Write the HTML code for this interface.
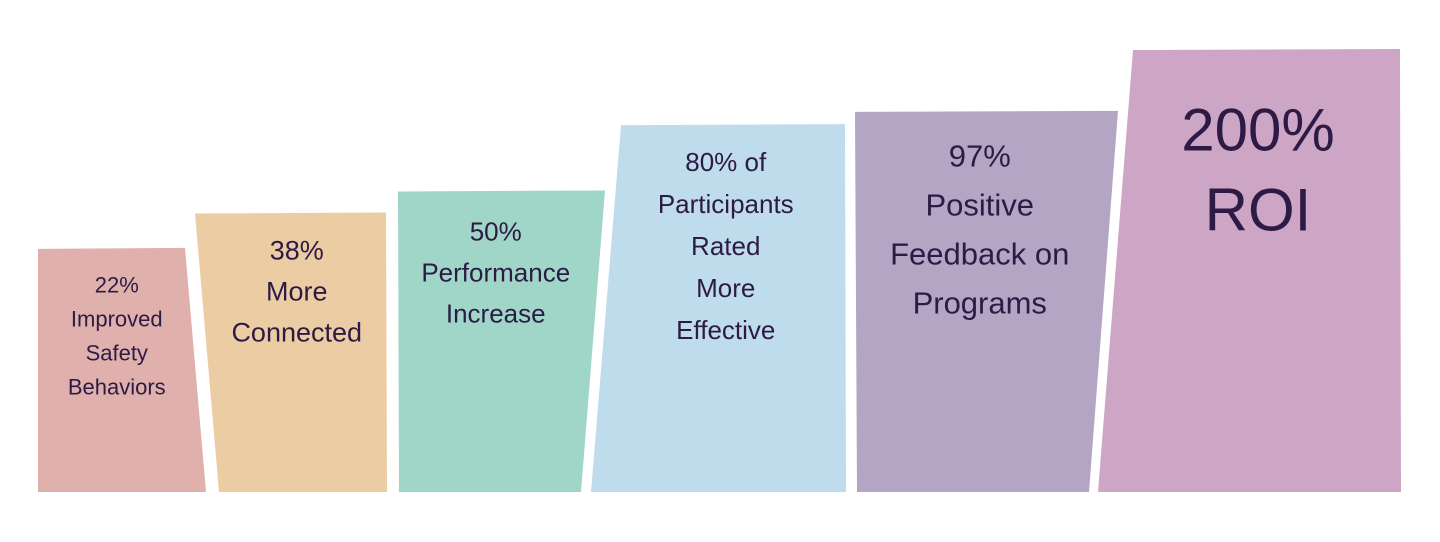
<!DOCTYPE html>
<html><head><meta charset="utf-8"><style>
html,body{margin:0;padding:0;background:#fff;width:1440px;height:542px;overflow:hidden}
svg text{font-family:"Liberation Sans",sans-serif;fill:#2d1a45;text-anchor:middle;dominant-baseline:central}
</style></head><body>
<svg id="chart" width="1440" height="542" viewBox="0 0 1440 542"></svg>
<script>
const categories = ["Improved Safety Behaviors","More Connected","Performance Increase","Participants Rated More Effective","Positive Feedback on Programs","ROI"];
const values = [22,38,50,80,97,200];
const levels = [55,63,68,83,86,100];
const labelLines = [
  ["22%","Improved","Safety","Behaviors"],
  ["38%","More","Connected"],
  ["50%","Performance","Increase"],
  ["80% of","Participants","Rated","More","Effective"],
  ["97%","Positive","Feedback on","Programs"],
  ["200%","ROI"]
];
const colors = ["#e0b1ac","#eccca2","#9fd6c7","#bfdcec","#b5a5c4","#cda6c6"];
// geometry (style, not data): left/right x at bottom and top
const geom = [
  {bl:38,br:206,tl:38,tr:185,fs:22,lh:34,off:36},
  {bl:219,br:387,tl:195,tr:386,fs:27,lh:41,off:37},
  {bl:399,br:581,tl:398,tr:605,fs:26,lh:41,off:40},
  {bl:591,br:846,tl:621,tr:845,fs:26,lh:42,off:37},
  {bl:857,br:1089,tl:855,tr:1118,fs:31,lh:49,off:44},
  {bl:1098,br:1401,tl:1133,tr:1400,fs:60,lh:80,off:80}
];
const baseY = 492, topY = 50, maxLevel = 100;
function y(v){ return baseY - (baseY - topY) * v / maxLevel; }
const svg = document.getElementById('chart');
const NS = "http://www.w3.org/2000/svg";
categories.forEach((c,i)=>{
  const g = geom[i];
  const ty = y(levels[i]);
  const poly = document.createElementNS(NS,'polygon');
  poly.setAttribute('points', `${g.tl},${ty} ${g.tr},${ty-1} ${g.br},${baseY} ${g.bl},${baseY}`);
  poly.setAttribute('fill', colors[i]);
  
  
  svg.appendChild(poly);
  const cx = (g.tl + g.tr + g.bl + g.br) / 4;
  labelLines[i].forEach((line,j)=>{
    const t = document.createElementNS(NS,'text');
    t.setAttribute('x', cx);
    t.setAttribute('y', ty + g.off + j*g.lh);
    t.setAttribute('font-size', g.fs);
    t.textContent = line;
    
    
    svg.appendChild(t);
  });
});
</script>
</body></html>
